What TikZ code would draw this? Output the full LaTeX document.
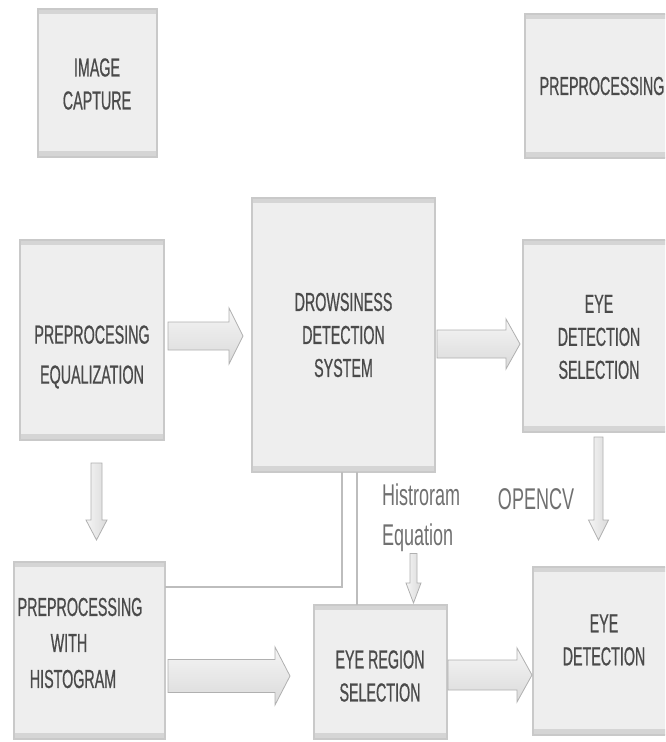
\documentclass[tikz,border=0pt]{standalone}
\usepackage{fontspec}
\setmainfont{Liberation Sans}
\newfontfamily\boxfont[FakeStretch=0.55,FakeBold=0.6]{Liberation Sans}
\newfontfamily\lblfont[FakeStretch=0.6]{Liberation Sans}
\usetikzlibrary{calc}
\definecolor{boxfill}{HTML}{EEEEEE}
\definecolor{boxline}{HTML}{C9C9C9}
\definecolor{band}{HTML}{D5D5D5}
\definecolor{txtc}{HTML}{4A4A4A}
\definecolor{lblc}{HTML}{707070}
\definecolor{arrline}{HTML}{B0B0B0}
\definecolor{arrtop}{HTML}{F5F5F5}
\definecolor{arrbot}{HTML}{DADADA}
\definecolor{conline}{HTML}{BDBDBD}
\tikzset{
  box/.style={rectangle, draw=boxline, line width=1.5pt, fill=boxfill, inner sep=0pt, outer sep=0pt,
    path picture={
      \fill[band] (path picture bounding box.north west) rectangle ([yshift=-5pt]path picture bounding box.north east);
      \fill[band] (path picture bounding box.south west) rectangle ([yshift=6pt]path picture bounding box.south east);}},
  txt/.style={font=\boxfont\fontsize{26}{33}\selectfont, text=txtc, align=center, inner sep=0pt},
  lbl/.style={font=\lblfont\fontsize{30}{40}\selectfont, text=lblc, inner sep=0pt},
  hblk/.style={draw=arrline, line width=0.8pt, line join=miter, top color=arrtop, bottom color=arrbot},
  vblk/.style={draw=arrline, line width=0.8pt, line join=miter, left color=arrtop, right color=arrbot},
  conn/.style={draw=conline, line width=2pt}
}
\newcommand\blkright[5]{\path[hblk] let \p1=(#1), \p2=(#2) in
  (\x1,\y1+#3) -- (\x2-#5,\y1+#3) -- (\x2-#5,\y1+#4) -- (\x2,\y1) -- (\x2-#5,\y1-#4) -- (\x2-#5,\y1-#3) -- (\x1,\y1-#3) -- cycle;}
\newcommand\blkdown[5]{\path[vblk] let \p1=(#1), \p2=(#2) in
  (\x1-#3,\y1) -- (\x1-#3,\y2+#5) -- (\x1-#4,\y2+#5) -- (\x1,\y2) -- (\x1+#4,\y2+#5) -- (\x1+#3,\y2+#5) -- (\x1+#3,\y1) -- cycle;}
\begin{document}
\begin{tikzpicture}[x=1pt,y=-1pt]
\clip (0,0) rectangle (665,742);
\fill[white] (0,0) rectangle (665,742);

% boxes
\node[box, minimum width=119pt, minimum height=148pt] (ic) at (97.5,83) {};
\node[box, minimum width=154pt, minimum height=144pt] (pp) at (602,86) {};
\node[box, minimum width=144pt, minimum height=200pt] (pe) at (92,340) {};
\node[box, minimum width=183pt, minimum height=274pt] (dds) at (343.5,335) {};
\node[box, minimum width=152pt, minimum height=192pt] (eds) at (599,336) {};
\node[box, minimum width=151pt, minimum height=177pt] (pwh) at (89.5,650.5) {};
\node[box, minimum width=133pt, minimum height=134pt] (ers) at (380.5,672) {};
\node[box, minimum width=142pt, minimum height=168pt] (ed) at (604,651) {};

% texts
\node[txt] (ict) at (97,84) {IMAGE\\CAPTURE};
\node[txt] (ppt) at (602,86) {PREPROCESSING};
\node[txt, font=\boxfont\fontsize{26}{40}\selectfont] (pet) at (92,357) {PREPROCESING\\EQUALIZATION};
\node[txt] (ddst) at (343.5,335) {DROWSINESS\\DETECTION\\SYSTEM};
\node[txt] (edst) at (599,337) {EYE\\DETECTION\\SELECTION};
\node[txt] (pwh1) at (80,607) {PREPROCESSING};
\node[txt] (pwh2) at (69,643) {WITH};
\node[txt] (pwh3) at (73,679) {HISTOGRAM};
\node[txt] (erst) at (380,676) {EYE REGION\\SELECTION};
\node[txt] (edt) at (604,640) {EYE\\DETECTION};
\node[lbl, anchor=base west] (hq1) at (382,505) {Histroram};
\node[lbl, anchor=base west] (hq2) at (382,545) {Equation};
\node[lbl] (cv) at (536,499) {OPENCV};

% thin connectors
\coordinate (l1) at (342,587);
\coordinate (l2) at (357,0);
\draw[conn] (dds.south -| l1) -- (l1) -- (pwh.east |- l1);
\draw[conn] (dds.south -| l2) -- (ers.north -| l2);

% block arrows
\coordinate (h1) at (0,336);
\coordinate (h2) at (0,344);
\coordinate (h3) at (0,676);
\coordinate (h4) at (0,675);
\coordinate (v1) at (96.5,0);
\coordinate (v2) at (598.5,0);
\coordinate (v3) at (413.5,0);
\blkright{$(pe.east |- h1)+(4,0)$}{$(dds.west |- h1)+(-9,0)$}{14pt}{28pt}{14pt}
\blkright{$(dds.east |- h2)+(2,0)$}{$(eds.west |- h2)+(-3,0)$}{14pt}{25pt}{14pt}
\blkright{$(pwh.east |- h3)+(3,0)$}{$(ers.west |- h3)+(-24,0)$}{16.5pt}{29pt}{15pt}
\blkright{$(ers.east |- h4)+(1,0)$}{$(ed.west |- h4)+(-1,0)$}{15pt}{27pt}{15pt}
\blkdown{$(pe.south -| v1)+(0,23)$}{$(pwh.north -| v1)+(0,-22)$}{5.5pt}{10.5pt}{20pt}
\blkdown{$(eds.south -| v2)+(0,5)$}{$(ed.north -| v2)+(0,-27)$}{4.5pt}{10pt}{20pt}
\blkdown{$(hq2.south -| v3)+(0,2)$}{$(ers.north -| v3)+(0,-2)$}{3.5pt}{7.5pt}{20pt}
\end{tikzpicture}
\end{document}
